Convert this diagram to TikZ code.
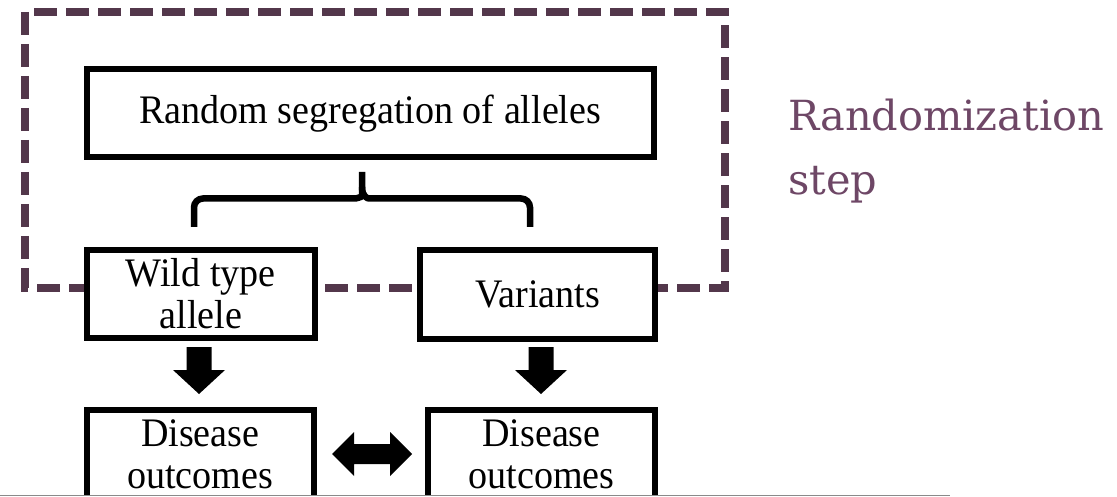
\documentclass[tikz,border=0pt]{standalone}
\usepackage{fontspec}
\newfontfamily\boxfont[FakeStretch=0.94]{Liberation Serif}
\newfontfamily\labelfont{DejaVu Serif}
\usetikzlibrary{calc}
\definecolor{framepurple}{HTML}{53374B}
\definecolor{labelpurple}{HTML}{6E4766}
\definecolor{rulegray}{HTML}{8A8A8A}
\tikzset{
  stage/.style={draw=black, line width=6pt, fill=white, inner sep=0pt,
    align=center, font={\boxfont\fontsize{40.5pt}{42pt}\selectfont}},
  bracket/.style={draw=black, line width=6.5pt, rounded corners=9pt},
  frame/.style={draw=framepurple, line width=7.5pt, dash pattern=on 23pt off 9pt},
  steplabel/.style={text=labelpurple, inner sep=0pt, anchor=base west,
    font={\labelfont\fontsize{41.5pt}{64pt}\selectfont}},
  pics/blockdown/.style={code={
    \fill[black] (-12.5,0) -- (12.5,0) -- (12.5,23) -- (26,23) -- (0,47)
      -- (-26,23) -- (-12.5,23) -- cycle;}},
}
\begin{document}
\begin{tikzpicture}[x=1pt,y=-1pt]
\useasboundingbox (0,0) rectangle (1117,497);
\begin{scope}
  \clip (0,0) rectangle (1117,494.5);
  % dashed frame around the randomization step
  \draw[frame] (25,12) rectangle (725,288);
  % boxes
  \node[stage, minimum width=567.5pt, minimum height=87.5pt] (seg) at (370.25,113.25) {Random segregation of alleles};
  \node[stage, minimum width=228.5pt, minimum height=88pt] (wt) at (200.75,294) {Wild type\\allele};
  \node[stage, minimum width=235pt, minimum height=88pt] (var) at (537.5,294.5) {Variants};
  \node[stage, minimum width=227.5pt, minimum height=88pt] (dwt) at (200.25,454) {Disease\\outcomes};
  \node[stage, minimum width=227pt, minimum height=88pt] (dvar) at (541.5,454) {Disease\\outcomes};
  % brace splitting the alleles
  \coordinate (braceL) at (194,227);
  \coordinate (braceR) at (530,227);
  \coordinate (braceT) at (362,172);
  \draw[bracket] (braceL) -- (194,198.5) -- (346,198.5)
    .. controls (356,198.5) and (362,197) .. (362,187) -- (braceT);
  \draw[bracket] (braceR) -- (530,198.5) -- (378,198.5)
    .. controls (368,198.5) and (362,197) .. (362,187);
  % block arrows
  \pic at (199,347) {blockdown};
  \pic at (541,347) {blockdown};
  \fill[black] (332,454) -- (354,432) -- (354,444) -- (390,444) -- (390,432)
    -- (412,454) -- (390,476) -- (390,464) -- (354,464) -- (354,476) -- cycle;
\end{scope}
\draw[rulegray, line width=1.5pt] (0,495.7) -- (950,495.7);
% label of the framed step
\node[steplabel] (rand) at (788,131) {Randomization};
\node[steplabel] (randstep) at (788,195) {step};
\end{tikzpicture}
\end{document}
